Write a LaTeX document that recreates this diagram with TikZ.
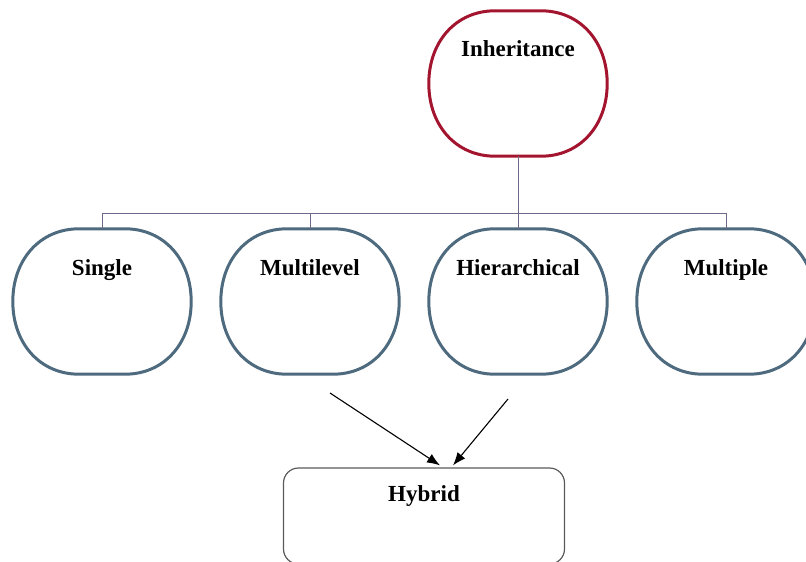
\documentclass[tikz,border=0pt]{standalone}
\usepackage{fontspec}
\setmainfont{Liberation Serif}
\usetikzlibrary{arrows.meta}
\definecolor{rootred}{HTML}{A3152F}
\definecolor{kindblue}{HTML}{4E6A7E}
\definecolor{linkgray}{HTML}{6E6A8C}
\definecolor{hybgray}{HTML}{5A5A5A}
\tikzset{
  ovalspot/.style={minimum width=178pt, minimum height=145pt, inner sep=0pt},
  rootline/.style={draw=rootred, line width=3pt},
  kindline/.style={draw=kindblue, line width=3pt},
  hybbox/.style={draw=hybgray, line width=1.2pt, rounded corners=15pt,
    minimum width=281pt, minimum height=96pt, inner sep=0pt},
  lbl/.style={font=\fontsize{23}{26}\selectfont\bfseries, inner sep=0pt, anchor=base},
  link/.style={draw=linkgray, line width=1pt},
  arr/.style={draw=black, line width=1.1pt, -{Latex[length=13pt,width=10pt]}}
}
% squashed oval outline around a node: flat top and bottom, curved sides
\newcommand\drawoval[2]{%
  \draw[#2] ([xshift=-23pt]#1.north)
    .. controls ([xshift=-62pt]#1.north) and ([yshift=42pt]#1.west) .. (#1.west)
    .. controls ([yshift=-42pt]#1.west) and ([xshift=-62pt]#1.south) .. ([xshift=-23pt]#1.south)
    -- ([xshift=23pt]#1.south)
    .. controls ([xshift=62pt]#1.south) and ([yshift=-42pt]#1.east) .. (#1.east)
    .. controls ([yshift=42pt]#1.east) and ([xshift=62pt]#1.north) .. ([xshift=23pt]#1.north)
    -- cycle;}
\begin{document}
\begin{tikzpicture}[x=1pt, y=-1pt]
  \useasboundingbox (0,0) rectangle (806,562);

  % root of the hierarchy
  \node[ovalspot] (inh) at (518,83.5) {};
  \drawoval{inh}{rootline}
  \node[lbl] (inhl) at ([yshift=-46pt]inh.north) {Inheritance};

  % the four kinds
  \node[ovalspot] (sing) at (102,301.5) {};
  \node[ovalspot] (mlev) at (310,301.5) {};
  \node[ovalspot] (hier) at (518,301.5) {};
  \node[ovalspot] (mult) at (726,301.5) {};
  \drawoval{sing}{kindline}
  \drawoval{mlev}{kindline}
  \drawoval{hier}{kindline}
  \drawoval{mult}{kindline}
  \node[lbl] (singl) at ([yshift=-47pt]sing.north) {Single};
  \node[lbl] (mlevl) at ([yshift=-47pt]mlev.north) {Multilevel};
  \node[lbl] (hierl) at ([yshift=-47pt]hier.north) {Hierarchical};
  \node[lbl] (multl) at ([yshift=-47pt]mult.north) {Multiple};

  % hybrid combination
  \node[hybbox] (hyb) at (424,516) {};
  \node[lbl] (hybl) at ([yshift=-34pt]hyb.north) {Hybrid};

  % tree connector
  \coordinate (bus) at (518,213);
  \draw[link] (inh.south) -- (bus);
  \draw[link] (sing.north) |- (bus);
  \draw[link] (mlev.north) -- (mlev.north |- bus);
  \draw[link] (hier.north) -- (bus);
  \draw[link] (mult.north) |- (bus);

  % arrows into the hybrid box
  \coordinate (fromML) at (330,393);
  \coordinate (fromHI) at (508,399);
  \draw[arr] (fromML) -- ([xshift=16pt,yshift=2pt]hyb.north);
  \draw[arr] (fromHI) -- ([xshift=29pt,yshift=2pt]hyb.north);
\end{tikzpicture}
\end{document}
